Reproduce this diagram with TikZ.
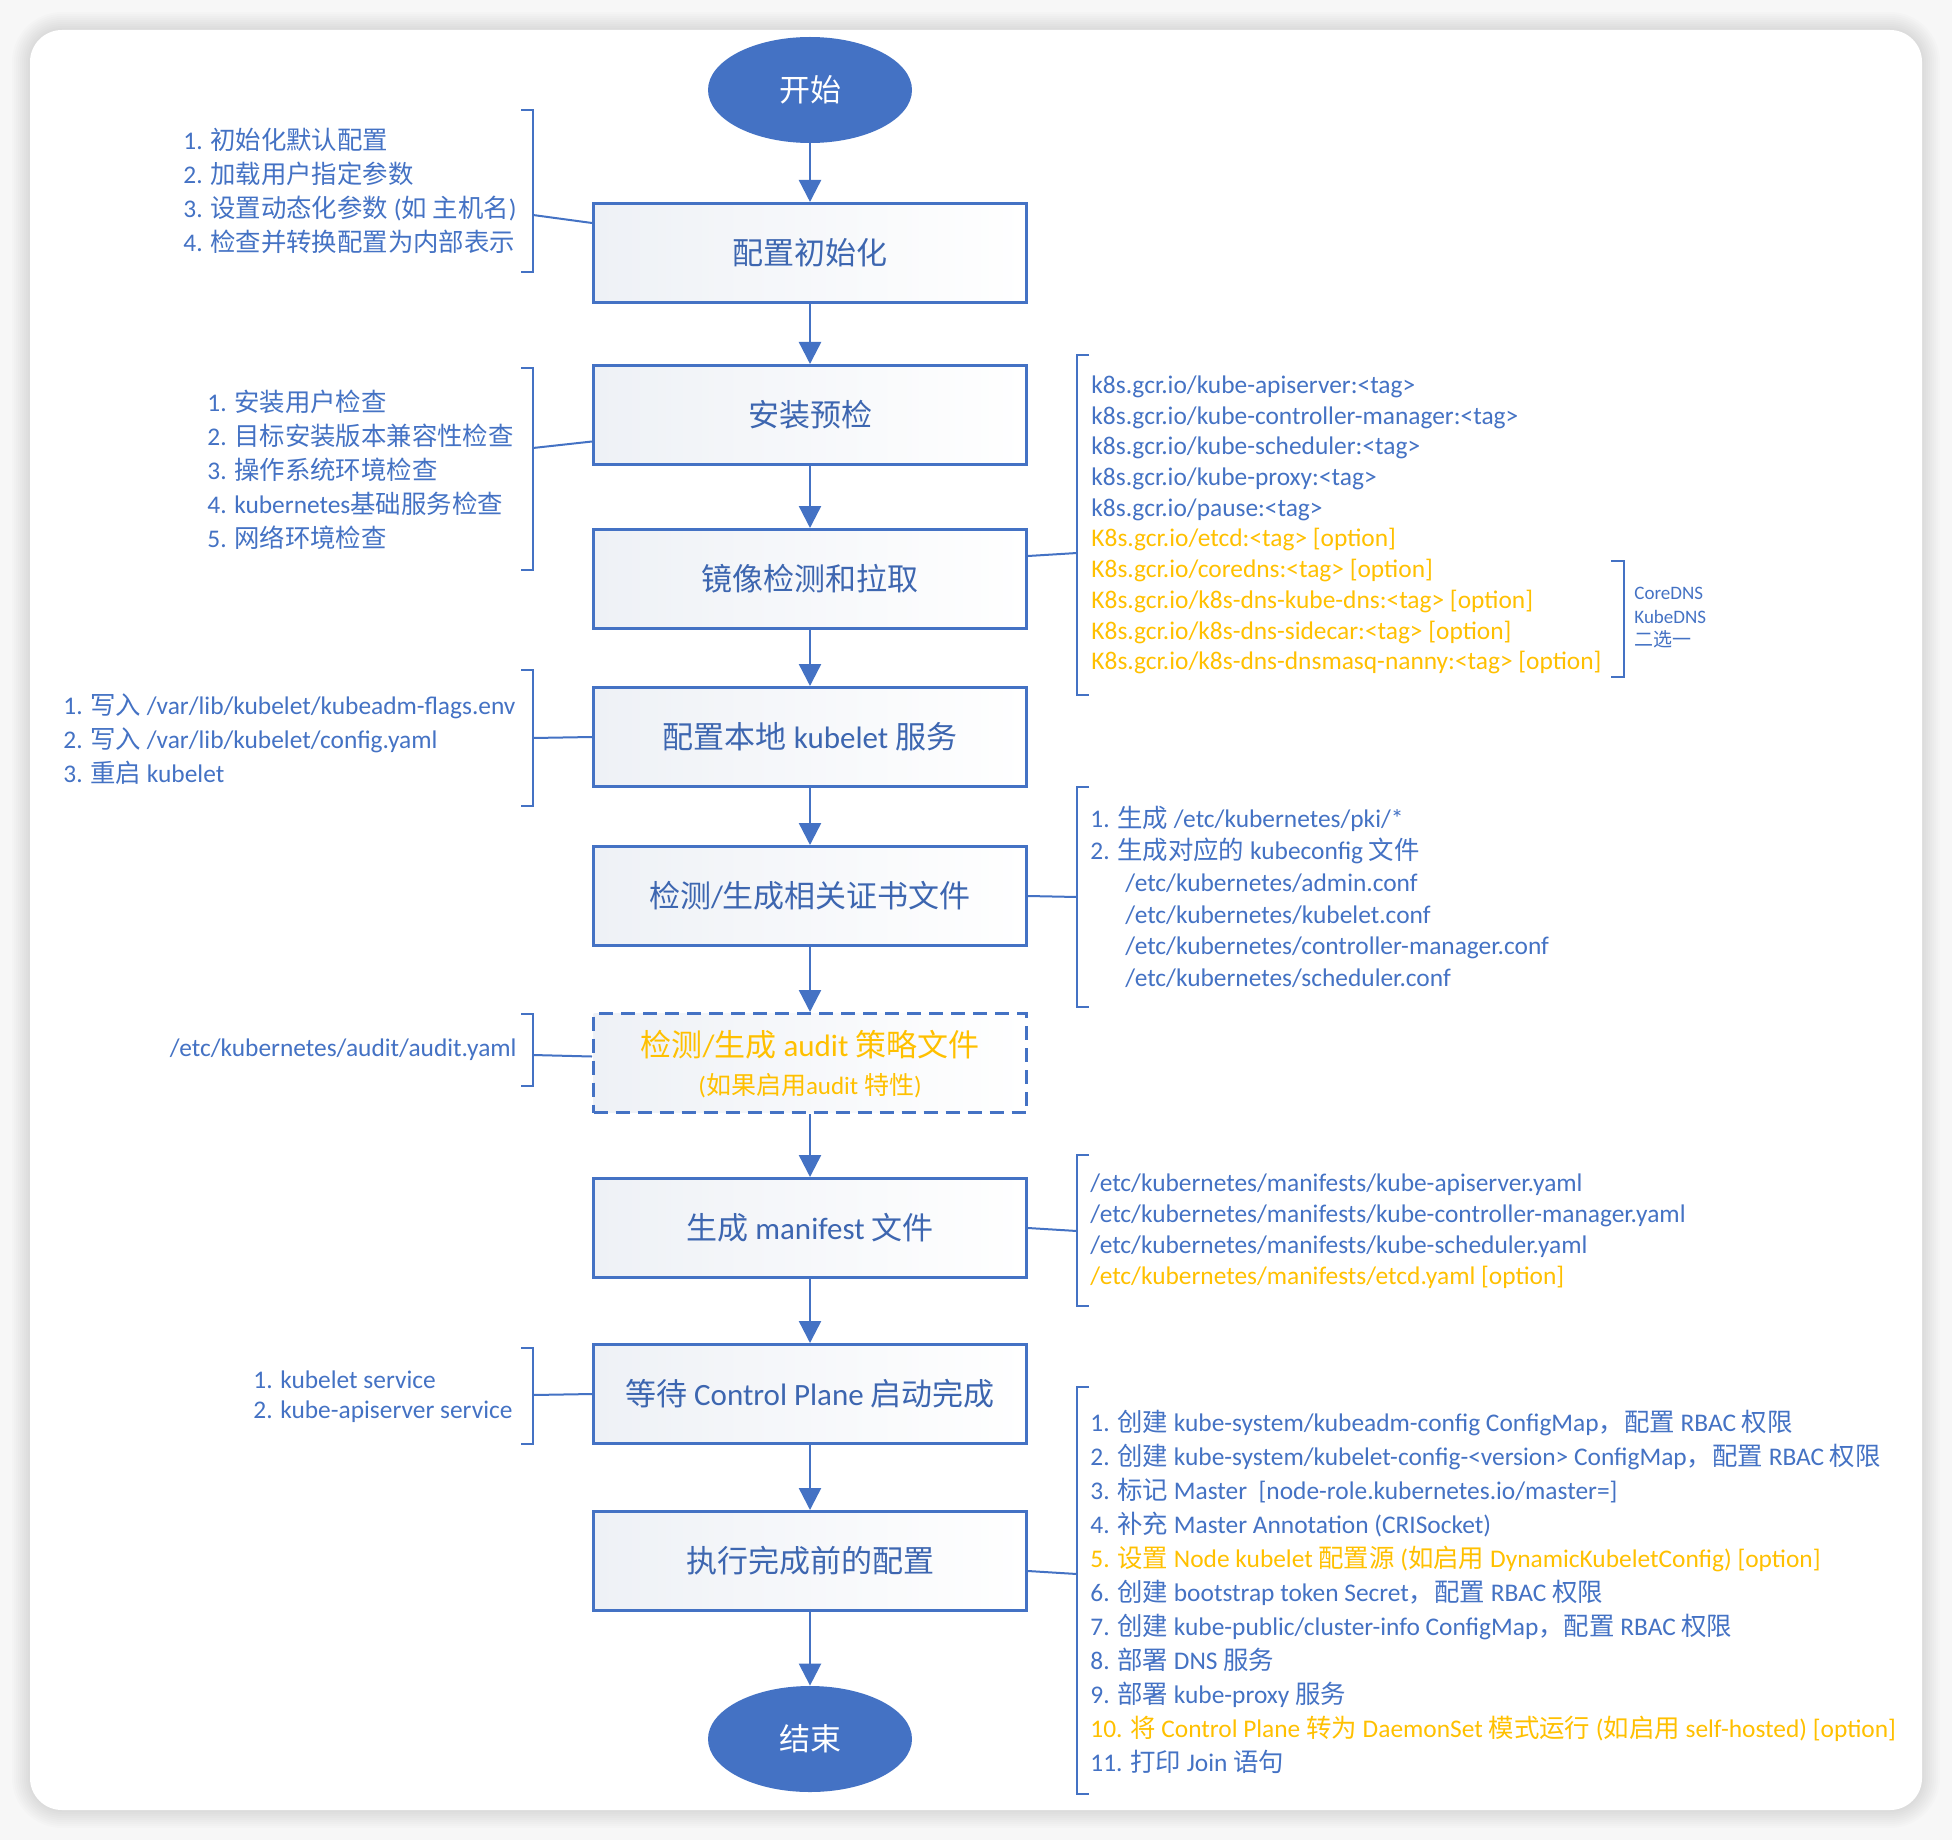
\documentclass[tikz,border=0pt]{standalone}
\usepackage{fontspec}
\setmainfont{Carlito}
\newfontfamily\cjkfont{Noto Sans CJK SC}
\usetikzlibrary{arrows.meta}
\usetikzlibrary{shapes.geometric}
\XeTeXinterchartokenstate=1
\newXeTeXintercharclass\cjkclass
\newcount\cjkcode
\cjkcode="4E00
\loop\XeTeXcharclass\cjkcode=\cjkclass\advance\cjkcode by 1\ifnum\cjkcode<"A000\repeat
\XeTeXcharclass"FF0C=\cjkclass
\XeTeXinterchartoks 0 \cjkclass={\begingroup\cjkfont}
\XeTeXinterchartoks 4095 \cjkclass={\begingroup\cjkfont}
\XeTeXinterchartoks \cjkclass 0={\endgroup}
\XeTeXinterchartoks \cjkclass 4095={\endgroup}
\definecolor{kblue}{HTML}{4472C4}
\definecolor{kdark}{HTML}{3D66B0}
\definecolor{kopt}{HTML}{FFC000}
\definecolor{kshade}{HTML}{EEF1F6}
\definecolor{kpage}{HTML}{F7F7F7}
\begin{document}
\begin{tikzpicture}[x = 0.5pt, y = -0.5pt]
	\tikzstyle{ovalStyle}=[shape = ellipse, fill = kblue, text = white, minimum width = 102pt, minimum height = 53pt, inner sep = 0pt, font = \fontsize{15.5}{18}\selectfont]
	\tikzstyle{boxStyle}=[shape = rectangle, draw = kblue, line width = 1.5pt, left color = kshade, right color = white, text = kdark, minimum width = 216.5pt, minimum height = 49.5pt, inner sep = 0pt, font = \fontsize{15.5}{18}\selectfont]
	\tikzstyle{auditStyle}=[boxStyle, dash pattern = on 7pt off 4pt]
	\tikzstyle{listStyle}=[anchor = west, align = left, text = kblue, inner sep = 0pt]
	\tikzstyle{arrowStyle}=[draw = kblue, line width = 1.2pt, -{Triangle[width = 11pt, length = 11pt]}]
	\tikzstyle{bracketStyle}=[draw = kblue, line width = 1pt]
	\tikzstyle{linkStyle}=[draw = kblue, line width = 1pt]
	\useasboundingbox (0,0) rectangle (1952,1840);
	\fill[kpage] (0,0) rectangle (1952,1840);
	\foreach \s in {2,4,...,18}
		\fill[black, opacity = 0.011, rounded corners = {16pt+\s*0.5pt}] ({30-\s},{30-\s}) rectangle ({1922+\s},{1810+\s});
	\fill[white, rounded corners = 16pt] (30,30) rectangle (1922,1810);
	\node[style = ovalStyle] (v0) at (810,90) {开始};
	\node[style = boxStyle] (v1) at (810,253) {配置初始化};
	\node[style = boxStyle] (v2) at (810,415) {安装预检};
	\node[style = boxStyle] (v3) at (810,579) {镜像检测和拉取};
	\node[style = boxStyle] (v4) at (810,737) {配置本地 kubelet 服务};
	\node[style = boxStyle] (v5) at (810,896) {检测/生成相关证书文件};
	\node[style = auditStyle] (v6) at (810,1063) {};
	\node[text = kopt, inner sep = 0pt, font = \fontsize{15.5}{18}\selectfont] (v6a) at (810,1045) {检测/生成 audit 策略文件};
	\node[text = kopt, inner sep = 0pt, font = \fontsize{12.5}{14}\selectfont] (v6b) at (810,1086) {(如果启用audit 特性)};
	\node[style = boxStyle] (v7) at (810,1228) {生成 manifest 文件};
	\node[style = boxStyle] (v8) at (810,1394) {等待 Control Plane 启动完成};
	\node[style = boxStyle] (v9) at (810,1561) {执行完成前的配置};
	\node[style = ovalStyle] (v10) at (810,1739) {结束};
	\foreach \a/\b in {v0/v1, v1/v2, v2/v3, v3/v4, v4/v5, v5/v6, v6/v7, v7/v8, v8/v9, v9/v10}
		\draw[arrowStyle] (\a) -- (\b);
	\node[style = listStyle, font = \fontsize{12.7}{17}\selectfont] (l1) at (183,191) {1. 初始化默认配置\\2. 加载用户指定参数\\3. 设置动态化参数 (如 主机名)\\4. 检查并转换配置为内部表示};
	\node[style = listStyle, font = \fontsize{12.7}{17}\selectfont] (l2) at (207,470) {1. 安装用户检查\\2. 目标安装版本兼容性检查\\3. 操作系统环境检查\\4. kubernetes基础服务检查\\5. 网络环境检查};
	\node[style = listStyle, font = \fontsize{12.7}{17}\selectfont] (l3) at (63,739) {1. 写入 /var/lib/kubelet/kubeadm-flags.env\\2. 写入 /var/lib/kubelet/config.yaml\\3. 重启 kubelet};
	\node[style = listStyle, anchor = east, font = \fontsize{12.7}{17}\selectfont] (l4) at (517,1050) {/etc/kubernetes/audit/audit.yaml};
	\node[style = listStyle, font = \fontsize{12.7}{15}\selectfont] (l5) at (253,1397) {1. kubelet service\\2. kube-apiserver service};
	\node[style = listStyle, font = \fontsize{12.7}{15.35}\selectfont] (r1) at (1091,525) {k8s.gcr.io/kube-apiserver:<tag>\\k8s.gcr.io/kube-controller-manager:<tag>\\k8s.gcr.io/kube-scheduler:<tag>\\k8s.gcr.io/kube-proxy:<tag>\\k8s.gcr.io/pause:<tag>\\\textcolor{kopt}{K8s.gcr.io/etcd:<tag> [option]}\\\textcolor{kopt}{K8s.gcr.io/coredns:<tag> [option]}\\\textcolor{kopt}{K8s.gcr.io/k8s-dns-kube-dns:<tag> [option]}\\\textcolor{kopt}{K8s.gcr.io/k8s-dns-sidecar:<tag> [option]}\\\textcolor{kopt}{K8s.gcr.io/k8s-dns-dnsmasq-nanny:<tag> [option]}};
	\node[style = listStyle, font = \fontsize{9.5}{11.75}\selectfont] (r1b) at (1634,618) {CoreDNS\\KubeDNS\\二选一};
	\node[style = listStyle, font = \fontsize{12.7}{15.9}\selectfont] (r2) at (1090,897) {1. 生成 /etc/kubernetes/pki/*\\2. 生成对应的 kubeconfig 文件\\\hspace*{17.5pt}/etc/kubernetes/admin.conf\\\hspace*{17.5pt}/etc/kubernetes/kubelet.conf\\\hspace*{17.5pt}/etc/kubernetes/controller-manager.conf\\\hspace*{17.5pt}/etc/kubernetes/scheduler.conf};
	\node[style = listStyle, font = \fontsize{12.7}{15.5}\selectfont] (r3) at (1090,1231) {/etc/kubernetes/manifests/kube-apiserver.yaml\\/etc/kubernetes/manifests/kube-controller-manager.yaml\\/etc/kubernetes/manifests/kube-scheduler.yaml\\\textcolor{kopt}{/etc/kubernetes/manifests/etcd.yaml [option]}};
	\node[style = listStyle, font = \fontsize{12.7}{17}\selectfont] (r4) at (1090,1592) {1. 创建 kube-system/kubeadm-config ConfigMap，配置 RBAC 权限\\2. 创建 kube-system/kubelet-config-<version> ConfigMap，配置 RBAC 权限\\3. 标记 Master~~[node-role.kubernetes.io/master=]\\4. 补充 Master Annotation (CRISocket)\\\textcolor{kopt}{5. 设置 Node kubelet 配置源 (如启用 DynamicKubeletConfig) [option]}\\6. 创建 bootstrap token Secret，配置 RBAC 权限\\7. 创建 kube-public/cluster-info ConfigMap，配置 RBAC 权限\\8. 部署 DNS 服务\\9. 部署 kube-proxy 服务\\\textcolor{kopt}{10. 将 Control Plane 转为 DaemonSet 模式运行 (如启用 self-hosted) [option]}\\11. 打印 Join 语句};
	\foreach \t/\b in {110/272, 368/570, 670/806, 1014/1086, 1348/1444}
		\draw[bracketStyle] (521,\t) -- (533,\t) -- (533,\b) -- (521,\b);
	\foreach \t/\b in {355/695, 787/1007, 1155/1306, 1387/1794}
		\draw[bracketStyle] (1089,\t) -- (1077,\t) -- (1077,\b) -- (1089,\b);
	\draw[bracketStyle] (1611,561) -- (1624,561) -- (1624,677) -- (1611,677);
	\coordinate (c1) at (533,215);
	\coordinate (c2) at (533,448);
	\coordinate (c3) at (533,738);
	\coordinate (c4) at (533,1055);
	\coordinate (c5) at (533,1395);
	\coordinate (d1) at (1077,553);
	\coordinate (d2) at (1077,897);
	\coordinate (d3) at (1077,1231);
	\coordinate (d4) at (1077,1574);
	\draw[linkStyle] (c1) -- ([yshift = 15pt]v1.west);
	\draw[linkStyle] (c2) -- ([yshift = -13.25pt]v2.west);
	\draw[linkStyle] (c3) -- (v4.west);
	\draw[linkStyle] (c4) -- ([yshift = 3.25pt]v6.west);
	\draw[linkStyle] (c5) -- (v8.west);
	\draw[linkStyle] ([yshift = 11.5pt]v3.east) -- (d1);
	\draw[linkStyle] (v5.east) -- (d2);
	\draw[linkStyle] (v7.east) -- (d3);
	\draw[linkStyle] ([yshift = -5pt]v9.east) -- (d4);
\end{tikzpicture}
\end{document}
